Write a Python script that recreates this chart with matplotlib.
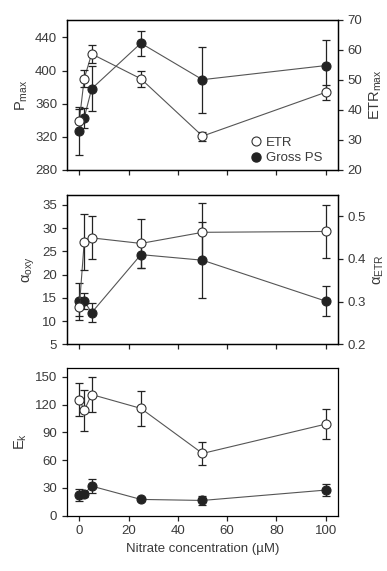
import matplotlib
matplotlib.use('Agg')
import matplotlib.pyplot as plt

plt.rcParams['font.family'] = ['Liberation Sans Narrow', 'Liberation Sans', 'DejaVu Sans']
plt.rcParams['mathtext.fontset'] = 'custom'
plt.rcParams['mathtext.rm'] = 'Liberation Sans'
plt.rcParams['mathtext.it'] = 'Liberation Sans'
plt.rcParams['font.size'] = 9

# nitrate concentrations (uM)
nitrate = [0, 2, 5, 25, 50, 100]

# panel 1: Pmax (gross PS, left) and ETRmax (right)
pmax_gross = [327, 343, 378, 433, 389, 406]
pmax_gross_err = [29, 12, 27, 15, 40, 31]
etrmax = [36.5, 50.5, 58.7, 50.4, 31.3, 45.9]
etrmax_err = [4, 2.8, 3, 2.7, 1.5, 2.5]

# panel 2: alpha oxy (left) and alpha ETR (right)
alpha_oxy = [14.3, 14.3, 11.8, 24.3, 23.1, 14.3]
alpha_oxy_err = [4, 1.8, 2, 2.8, 8.2, 3.2]
alpha_etr = [0.287, 0.440, 0.449, 0.436, 0.462, 0.464]
alpha_etr_err = [0.02, 0.066, 0.05, 0.057, 0.068, 0.062]

# panel 3: Ek
ek_etr = [125.5, 114, 131, 116, 67.3, 99]
ek_etr_err = [18, 22, 19, 19, 12, 16]
ek_gross = [22.5, 23.5, 32, 17.6, 16.5, 27.7]
ek_gross_err = [6.7, 3, 7.5, 2, 4.5, 6.8]

txt = '#3a3a3a'
plt.rcParams['text.color'] = txt
plt.rcParams['axes.labelcolor'] = txt
plt.rcParams['xtick.color'] = '#222222'
plt.rcParams['ytick.color'] = '#222222'
plt.rcParams['xtick.labelcolor'] = txt
plt.rcParams['ytick.labelcolor'] = txt
plt.rcParams['xtick.direction'] = 'out'
plt.rcParams['ytick.direction'] = 'out'
plt.rcParams['xtick.major.size'] = 3.5
plt.rcParams['ytick.major.size'] = 3.5
plt.rcParams['axes.linewidth'] = 0.9

fig = plt.figure(figsize=(3.87, 5.71), dpi=100)
L, W = 67 / 387, 271 / 387
ax1 = fig.add_axes([L, 1 - 170 / 571, W, 150 / 571])
ax2 = fig.add_axes([L, 1 - 344.3 / 571, W, 149.6 / 571])
ax3 = fig.add_axes([L, 1 - 515.7 / 571, W, 148 / 571])

line_c = '#555555'
dark = '#232323'


def series(ax, y, err, filled, label=None):
    ax.plot(nitrate, y, '-', color=line_c, lw=0.8, zorder=2)
    ax.errorbar(nitrate, y, yerr=err, fmt='none', ecolor=dark, elinewidth=0.9,
                capsize=2.6, capthick=0.9, zorder=3)
    if filled:
        ax.plot(nitrate, y, 'o', ms=6.5, mfc=dark, mec=dark, mew=0.8, zorder=4, label=label)
    else:
        ax.plot(nitrate, y, 'o', ms=6.5, mfc='white', mec='#333333', mew=0.8, zorder=4, label=label)


# panel 1
series(ax1, pmax_gross, pmax_gross_err, True)
ax1.set_ylim(280, 461)
ax1.set_yticks([280, 320, 360, 400, 440])
ax1.set_ylabel(r'P$_{\rm max}$', fontsize=10.5)
ax1b = ax1.twinx()
series(ax1b, etrmax, etrmax_err, False)
ax1b.set_ylim(20, 70)
ax1b.set_yticks([20, 30, 40, 50, 60, 70])
ax1b.set_ylabel(r'ETR$_{\rm max}$', fontsize=10.5)
h1 = ax1b.plot([], [], 'o', ms=6.5, mfc='white', mec='#333333', mew=0.8, label='ETR')[0]
h2 = ax1b.plot([], [], 'o', ms=6.5, mfc=dark, mec=dark, label='Gross PS')[0]
ax1b.legend(handles=[h1, h2], loc='lower right', bbox_to_anchor=(0.985, -0.04),
            frameon=False, handletextpad=0.1, labelspacing=0.25, fontsize=9.5,
            handlelength=1.2)

# panel 2
series(ax2, alpha_oxy, alpha_oxy_err, True)
ax2.set_ylim(5, 37.2)
ax2.set_yticks([5, 10, 15, 20, 25, 30, 35])
ax2.set_ylabel(r'$\alpha_{\rm oxy}$', fontsize=10.5)
ax2b = ax2.twinx()
series(ax2b, alpha_etr, alpha_etr_err, False)
ax2b.set_ylim(0.2, 0.55)
ax2b.set_yticks([0.2, 0.3, 0.4, 0.5])
ax2b.set_ylabel(r'$\alpha_{\rm ETR}$', fontsize=10.5)

# panel 3
series(ax3, ek_gross, ek_gross_err, True)
series(ax3, ek_etr, ek_etr_err, False)
ax3.set_ylim(0, 160)
ax3.set_yticks([0, 30, 60, 90, 120, 150])
ax3.set_ylabel(r'E$_{\rm k}$', fontsize=10.5)
ax3.set_xlabel('Nitrate concentration (\u00b5M)', fontsize=9.5)

for ax in [ax1, ax2, ax3, ax1b, ax2b]:
    ax.set_xlim(-5, 105)
    ax.set_xticks([0, 20, 40, 60, 80, 100])
    ax.tick_params(labelsize=9.5, width=0.9)
for ax in [ax1, ax2]:
    ax.tick_params(axis='x', labelbottom=False)
for ax in [ax1b, ax2b]:
    ax.tick_params(axis='x', labelbottom=False, bottom=False)

fig.savefig('out.png', dpi=100)
